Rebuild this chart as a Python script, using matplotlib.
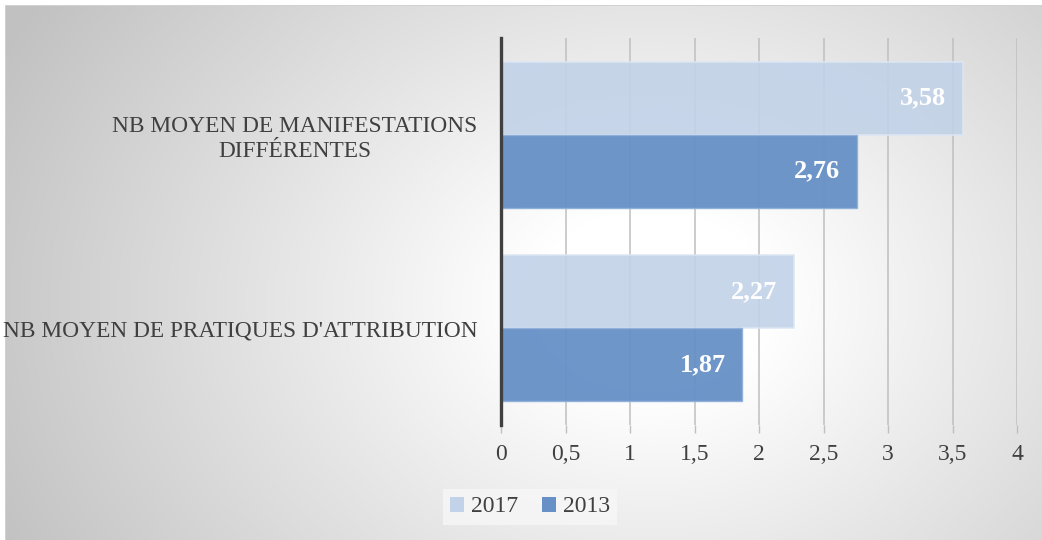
import numpy as np
import matplotlib
matplotlib.use("Agg")
import matplotlib.pyplot as plt
from matplotlib.patches import Patch

# donnees
categories = ["NB MOYEN DE PRATIQUES D'ATTRIBUTION", "NB MOYEN DE MANIFESTATIONS\nDIFFÉRENTES"]
val_2017 = [2.27, 3.58]
val_2013 = [1.87, 2.76]
series = ["2017", "2013"]
ticks = [0, 0.5, 1, 1.5, 2, 2.5, 3, 3.5, 4]
tick_labels = ["0", "0,5", "1", "1,5", "2", "2,5", "3", "3,5", "4"]

c17 = "#c2d2e8"
c13 = "#6690c6"
txt = "#404040"
plt.rcParams['font.family'] = ['Liberation Serif', 'DejaVu Serif']

W, H = 1042, 540
fig = plt.figure(figsize=(W / 100, H / 100), dpi=100)

# fond en degrade radial
bg = fig.add_axes([0, 0, 1, 1])
yy, xx = np.mgrid[0:H, 0:W]
r = np.hypot(xx - 650, (yy - 300) * 1.3)
t = np.clip((r - 120) / 600, 0, 1)
g = 1 - t * (1 - 0.76)
img = np.dstack([g, g, g])
img[:5, :, :] = 1.0
img[:, :5, :] = 1.0
img[5, 5:, :] = 0.82
img[5:, 5, :] = 0.82
bg.imshow(img, extent=[0, W, H, 0], aspect='auto', interpolation='bilinear')
bg.axis('off')

ax = fig.add_axes([501 / W, 1 - 425 / H, (1017 - 501) / W, (425 - 38) / H])
ax.patch.set_alpha(0)
y = np.arange(len(categories))
h = 0.377
b17 = ax.barh(y + h / 2, val_2017, height=h, color=c17, alpha=0.9, edgecolor="#dde6f2", linewidth=1.2, zorder=3)
b13 = ax.barh(y - h / 2, val_2013, height=h, color=c13, alpha=0.95, edgecolor="#8fb0da", linewidth=1.0, zorder=3)

for bars in (b17, b13):
    for rect in bars:
        v = rect.get_width()
        ax.annotate(f"{v:.2f}".replace(".", ","), (v, rect.get_y() + rect.get_height() / 2),
                    xytext=(-12, 0), textcoords="offset points", ha="right", va="center",
                    color="white", fontsize=19, fontweight="bold", zorder=5)

ax.set_xlim(0, 4)
ax.set_ylim(-0.5, 1.5)
ax.set_xticks(ticks)
ax.set_xticklabels(tick_labels, fontsize=17, color=txt)
ax.set_yticks(y)
ax.set_yticklabels(categories, fontsize=16.8, color=txt, ha="right", multialignment="center",
                   linespacing=1.25)
ax.tick_params(axis='y', length=0, pad=17)
ax.tick_params(axis='x', length=6, color="#bfbfbf", width=1, pad=8)
ax.grid(axis='x', color="#bfbfbf", linewidth=1.1, zorder=0)
for s in ("top", "right", "bottom"):
    ax.spines[s].set_visible(False)
ax.spines["left"].set_color("#404040")
ax.spines["left"].set_linewidth(2.4)
ax.spines["left"].set_zorder(6)

handles = [Patch(facecolor=c17), Patch(facecolor=c13)]
leg = fig.legend(handles, series, loc="center", bbox_to_anchor=(530 / W, 1 - 507 / H), ncol=2,
                 fontsize=17, frameon=True, handlelength=0.6, handleheight=0.6, handletextpad=0.3,
                 columnspacing=1.0, borderpad=0.3, fancybox=False)
leg.get_frame().set_facecolor("#f7f7f7")
leg.get_frame().set_edgecolor("none")
for tx in leg.get_texts():
    tx.set_color(txt)

fig.savefig("out.png", dpi=100)
